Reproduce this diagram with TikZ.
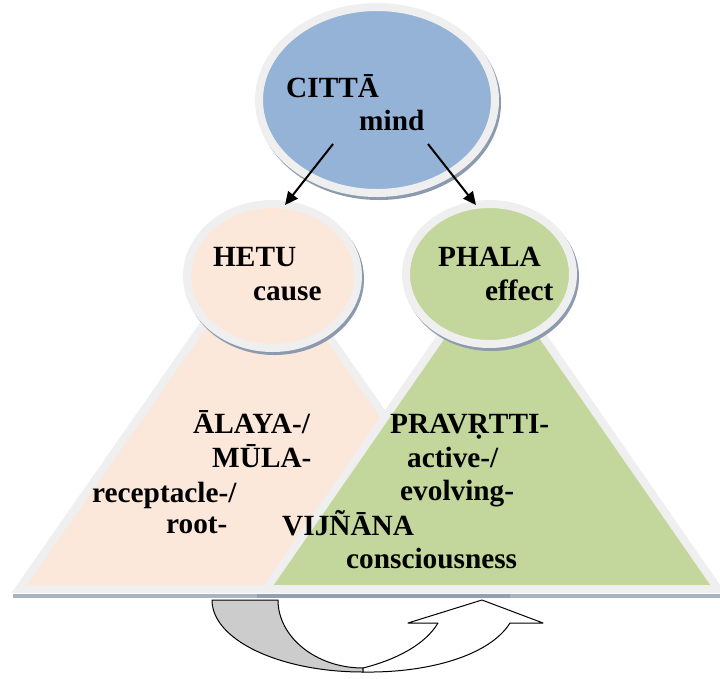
\documentclass[tikz,border=0pt]{standalone}
\usepackage{fontspec}
\setmainfont{Liberation Serif}
\usetikzlibrary{shapes.geometric,arrows.meta}
\definecolor{mindblue}{HTML}{95B3D7}
\definecolor{causepeach}{HTML}{FCE8DA}
\definecolor{effectgreen}{HTML}{C3D69B}
\definecolor{rimgray}{HTML}{EFEFEF}
\definecolor{shadowc}{HTML}{8C9AAE}
\definecolor{loopgray}{HTML}{CCCCCC}
\begin{document}
\begin{tikzpicture}[x=1pt,y=-1pt,
  rim/.style={draw=rimgray, line width=8pt},
  bubble/.style={ellipse, rim, inner sep=0pt,
    preaction={draw=shadowc, line width=8pt, transform canvas={shift={(2pt,-3pt)}}}},
  lbl/.style={font=\bfseries\fontsize{29.3}{34}\selectfont, inner sep=0pt, anchor=base west},
  link/.style={line width=2pt, -{Triangle[length=13pt,width=12pt]}},
  loop/.style={draw=black, line width=1pt, line join=round}]
\useasboundingbox (0,0) rectangle (720,678);

% cycle arrow under the base
\filldraw[loop, fill=loopgray]
  (212,600) -- (278,600)
  .. controls (278,637) and (316,668) .. (363,668)
  -- (363,672)
  .. controls (280,672) and (212,640) .. (212,600) -- cycle;
\filldraw[loop, fill=white]
  (363,672) .. controls (430,673) and (490,655) .. (510,623)
  -- (543,623) -- (482,600) -- (408,623) -- (438,623)
  .. controls (425,645) and (395,660) .. (363,668) -- cycle;

% shadow of the triangle bases
\fill[shadowc, opacity=0.75] (13,594) rectangle (510,598);
\fill[shadowc, opacity=0.75] (257,594) rectangle (720,598);

% the two triangles
\filldraw[rim, fill=causepeach] (19,589) -- (262,241) -- (505,589) -- cycle;
\filldraw[rim, fill=effectgreen] (266,589) -- (492,263) -- (718,589) -- cycle;

% the three bubbles
\node[bubble, fill=causepeach, minimum width=171pt, minimum height=144pt] (hetu) at (272.5,276) {};
\node[bubble, fill=effectgreen, minimum width=167pt, minimum height=140pt] (phala) at (489.5,274) {};
\node[bubble, fill=mindblue, minimum width=236pt, minimum height=186pt] (citta) at (377,100) {};

% arrows from mind to cause and effect
\coordinate (lstart) at (333,144);
\coordinate (rstart) at (428,144);
\coordinate (lend) at (285,205);
\coordinate (rend) at (476,205);
\draw[link] (lstart) -- (lend);
\draw[link] (rstart) -- (rend);

% labels
\node[lbl] (tcitta) at (286,97) {CITTĀ};
\node[lbl] (tmind) at (359,130) {mind};
\node[lbl] (thetu) at (213,266) {HETU};
\node[lbl] (tcause) at (253,300) {cause};
\node[lbl] (tphala) at (438,266) {PHALA};
\node[lbl] (teffect) at (485,300) {effect};
\node[lbl] (talaya) at (193,433) {ĀLAYA-/};
\node[lbl] (tmula) at (212,467) {MŪLA-};
\node[lbl] (trecept) at (92,502) {receptacle-/};
\node[lbl] (troot) at (166,533) {root-};
\node[lbl] (tprav) at (390,433) {PRAV\d{R}TTI-};
\node[lbl] (tactive) at (407,467) {active-/};
\node[lbl] (tevolv) at (400,500) {evolving-};
\node[lbl] (tvijn) at (282,535) {VIJÑĀNA};
\node[lbl] (tcons) at (346,568) {consciousness};
\end{tikzpicture}
\end{document}
